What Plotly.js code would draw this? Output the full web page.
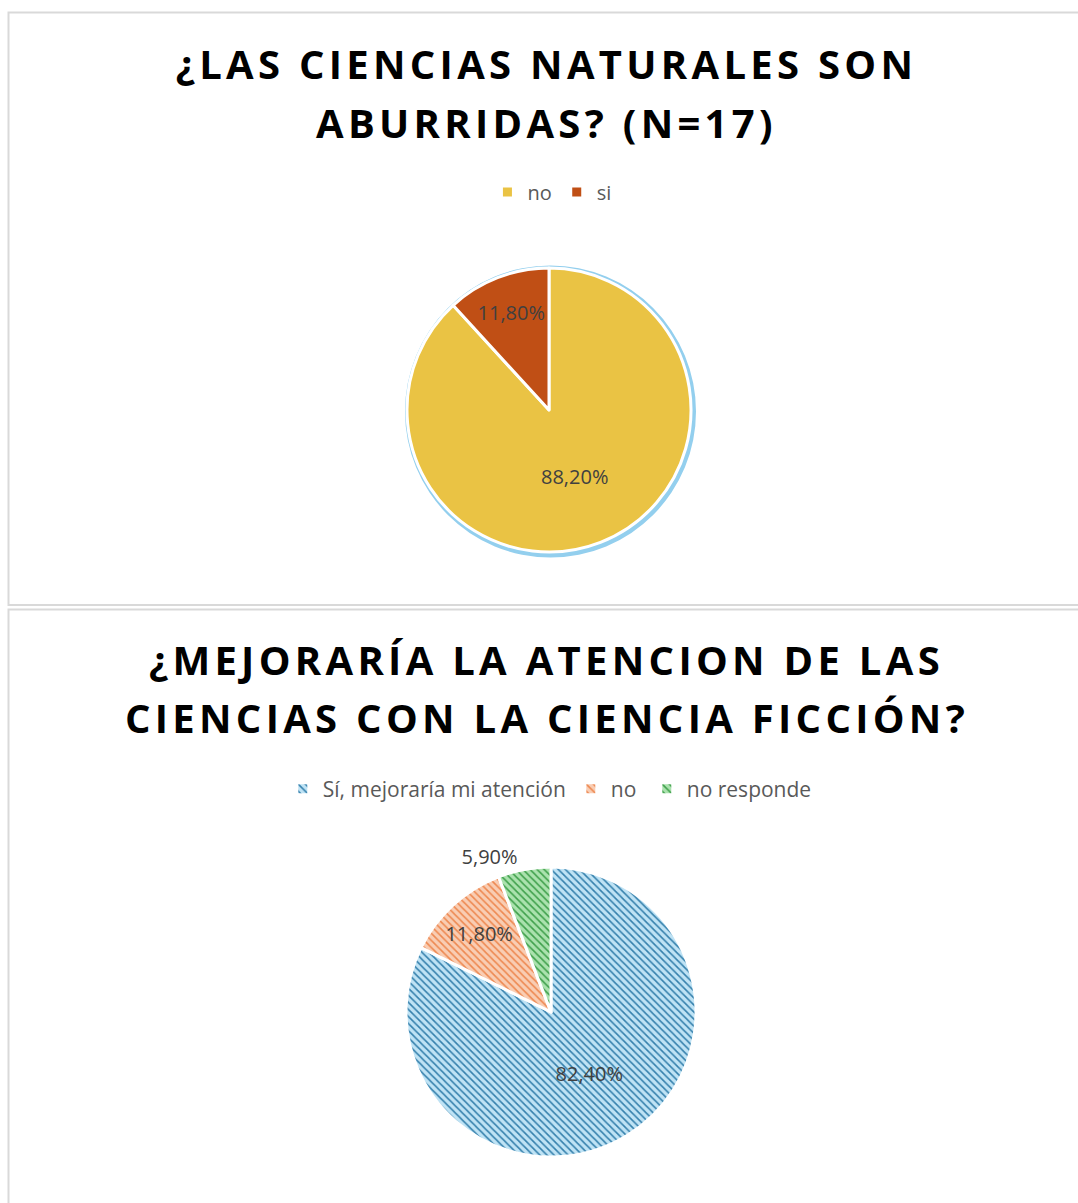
<!DOCTYPE html>
<html>
<head>
<meta charset="utf-8">
<script src="https://cdn.plot.ly/plotly-3.0.1.min.js"></script>
<style>
html, body { margin: 0; padding: 0; background: #ffffff; }
#chart { width: 1078px; height: 1203px; }
.gtitle, .annotation-text { letter-spacing: 4.3px; }
</style>
</head>
<body>
<div id="chart"></div>
<script>
// ---- Data ----
const title1Lines = ["¿LAS CIENCIAS NATURALES SON", "ABURRIDAS? (N=17)"];
const labels1 = ["no", "si"];
const values1 = [88.2, 11.8];
const colors1 = ["#EAC344", "#C04F15"];

const title2Lines = ["¿MEJORARÍA LA ATENCION DE LAS", "CIENCIAS CON LA CIENCIA FICCIÓN?"];
// trailing no-break space keeps this "no" separate from the first chart's "no" in the legends
const labels2 = ["Sí, mejoraría mi atención", "no\u00A0", "no responde"];
const values2 = [82.4, 11.8, 5.9];
const bg2 = ["#BFE3F5", "#F9CDB3", "#ABE2AE"];
const fg2 = ["#3580AC", "#EE8850", "#3FA04B"];

// ---- Helpers ----
const W = 1078, H = 1203;
const px = x => x / W;
const py = y => 1 - y / H;
const fmt = v => v.toFixed(2).replace(".", ",") + "%";

const FONT = "'Open Sans', 'DejaVu Sans', sans-serif";
const TITLE_FONT = { family: FONT, size: 40, color: "#000000" };

const pie1 = {
  type: "pie",
  labels: labels1,
  values: values1,
  text: values1.map(fmt),
  textinfo: "text",
  hoverinfo: "label+text",
  sort: false,
  direction: "clockwise",
  rotation: 0,
  textposition: "inside",
  insidetextorientation: "horizontal",
  textfont: { family: FONT, size: 20, color: "#404040" },
  marker: { colors: colors1, line: { color: "#FFFFFF", width: 3 } },
  domain: { x: [px(549 - 142), px(549 + 142)], y: [py(410 + 142), py(410 - 142)] },
  legend: "legend",
  showlegend: true
};

const pie2 = {
  type: "pie",
  labels: labels2,
  values: values2,
  text: values2.map(fmt),
  textinfo: "text",
  hoverinfo: "label+text",
  sort: false,
  direction: "clockwise",
  rotation: 0,
  textposition: ["inside", "inside", "outside"],
  insidetextorientation: "horizontal",
  textfont: { family: FONT, size: 20, color: "#404040" },
  marker: {
    colors: bg2,
    line: { color: "#FFFFFF", width: 3 },
    pattern: { shape: "\\", fgcolor: fg2, bgcolor: bg2, size: 5, solidity: 0.32, fillmode: "replace" }
  },
  domain: { x: [px(551 - 145), px(551 + 145)], y: [py(1012 + 175), py(1012 - 175)] },
  legend: "legend2",
  showlegend: true
};

function titleLine(text, yPix) {
  return {
    text: "<b>" + text + "</b>",
    font: TITLE_FONT,
    x: 0.507, xanchor: "center",
    y: py(yPix), yanchor: "middle",
    xref: "paper", yref: "paper",
    showarrow: false
  };
}

const layout = {
  width: W,
  height: H,
  margin: { l: 0, r: 0, t: 0, b: 0 },
  paper_bgcolor: "#FFFFFF",
  font: { family: FONT, color: "#595959" },
  title: {
    text: "<b>" + title1Lines[0] + "</b>",
    font: TITLE_FONT,
    x: 0.507, xanchor: "center",
    y: py(65), yanchor: "middle",
    xref: "paper", yref: "paper"
  },
  annotations: [
    titleLine(title1Lines[1], 123),
    titleLine(title2Lines[0], 659),
    titleLine(title2Lines[1], 717)
  ],
  legend: {
    orientation: "h",
    x: 0.512, xanchor: "center",
    y: py(192), yanchor: "middle",
    font: { family: FONT, size: 20, color: "#595959" },
    bgcolor: "rgba(0,0,0,0)"
  },
  legend2: {
    orientation: "h",
    x: 0.51, xanchor: "center",
    y: py(789), yanchor: "middle",
    font: { family: FONT, size: 21, color: "#595959" },
    bgcolor: "rgba(0,0,0,0)"
  },
  shapes: [
    { type: "rect", xref: "paper", yref: "paper", x0: px(8.5), x1: px(1090), y0: py(605), y1: py(12.5),
      line: { color: "#D9D9D9", width: 2 }, fillcolor: "rgba(0,0,0,0)", layer: "below" },
    { type: "rect", xref: "paper", yref: "paper", x0: px(8.5), x1: px(1090), y0: py(1220), y1: py(609.5),
      line: { color: "#D9D9D9", width: 2 }, fillcolor: "rgba(0,0,0,0)", layer: "below" },
    { type: "circle", xref: "paper", yref: "paper", x0: px(405), x1: px(696), y0: py(557.5), y1: py(265.5),
      line: { width: 0 }, fillcolor: "#93CFEE", layer: "below" }
  ]
};

Plotly.newPlot("chart", [pie1, pie2], layout, { displayModeBar: false, staticPlot: true });
</script>
</body>
</html>
